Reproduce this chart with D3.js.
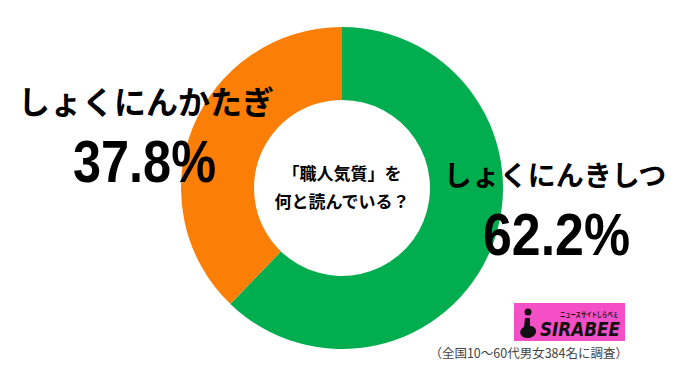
<!DOCTYPE html>
<html>
<head>
<meta charset="utf-8">
<script src="https://cdn.jsdelivr.net/npm/d3@7"></script>
<style>
  body { margin: 0; background: #fff; }
  svg { display: block; font-family: "Noto Sans CJK JP", "Noto Sans", sans-serif; }
</style>
</head>
<body>
<svg id="chart" width="700" height="389"></svg>
<script>
const categories = ["しょくにんきしつ", "しょくにんかたぎ"];
const values = [62.2, 37.8];
const colors = ["#00ad4f", "#fb7f06"];
const question = ["「職人気質」を", "何と読んでいる？"];
const note = "（全国10～60代男女384名に調査）";

const width = 700;
const height = 389;
var svg = d3.select('#chart');

var cx = 342, cy = 188;
var pie = d3.pie().sort(null).value(function (d) { return d; });
var arc = d3.arc().innerRadius(88).outerRadius(161);

var g = svg.append('g').attr('transform', 'translate(' + cx + ',' + cy + ')');

g.selectAll('path')
  .data(pie(values))
  .enter().append('path')
  .attr('d', arc)
  .style('fill', function (d, i) { return colors[i]; });

// question in the hole
g.selectAll('text.q')
  .data(question)
  .enter().append('text')
  .attr('class', 'q')
  .attr('x', 0)
  .attr('y', function (d, i) { return -8 + i * 28; })
  .attr('text-anchor', 'middle')
  .style('font-size', '17px')
  .style('font-weight', 700)
  .text(function (d) { return d; });

// label spots, by hand
var labelPos = [
  { nx: 555, ny: 186, ns: 28, vx: 483, vy: 255, vw: 147 },
  { nx: 146, ny: 114, ns: 32, vx: 73, vy: 182, vw: 143 }
];
var fmt = d3.format('.1f');

svg.selectAll('text.name')
  .data(categories)
  .enter().append('text')
  .attr('class', 'name')
  .attr('x', function (d, i) { return labelPos[i].nx; })
  .attr('y', function (d, i) { return labelPos[i].ny; })
  .attr('text-anchor', 'middle')
  .style('font-size', function (d, i) { return labelPos[i].ns + 'px'; })
  .style('font-weight', 700)
  .text(function (d) { return d; });

svg.selectAll('text.val')
  .data(values)
  .enter().append('text')
  .attr('class', 'val')
  .attr('x', function (d, i) { return labelPos[i].vx; })
  .attr('y', function (d, i) { return labelPos[i].vy; })
  .attr('textLength', function (d, i) { return labelPos[i].vw; })
  .attr('lengthAdjust', 'spacingAndGlyphs')
  .style('font-family', '"Liberation Sans", Arial, sans-serif')
  .style('font-size', '60px')
  .style('font-weight', 700)
  .text(function (d) { return fmt(d) + '%'; });

// logo
var logo = svg.append('g').attr('transform', 'translate(514,303)');
logo.append('rect').attr('width', 111).attr('height', 38).style('fill', '#f44fc6');
logo.append('circle').attr('cx', 14).attr('cy', 9).attr('r', 3.5).style('fill', '#111');
logo.append('path')
  .attr('d', 'M11,15 L16,15 L16,23 C24,23 25,34 14,35 C5,35 4,27 10,24 Z')
  .style('fill', '#111');
logo.append('text')
  .attr('x', 26).attr('y', 33)
  .attr('textLength', 80)
  .attr('lengthAdjust', 'spacingAndGlyphs')
  .style('font-family', '"DejaVu Sans", sans-serif')
  .style('font-size', '19px')
  .style('font-weight', 700)
  .style('font-style', 'italic')
  .style('fill', '#111')
  .text('SIRABEE');
logo.append('text')
  .attr('x', 46).attr('y', 14)
  .attr('textLength', 58)
  .attr('lengthAdjust', 'spacingAndGlyphs')
  .style('font-size', '6.5px')
  .style('font-weight', 700)
  .style('fill', '#111')
  .text('ニュースサイトしらべぇ');

svg.append('text')
  .attr('x', 628).attr('y', 358)
  .attr('text-anchor', 'end')
  .style('font-size', '12.5px')
  .style('fill', '#444')
  .text(note);
</script>
</body>
</html>
